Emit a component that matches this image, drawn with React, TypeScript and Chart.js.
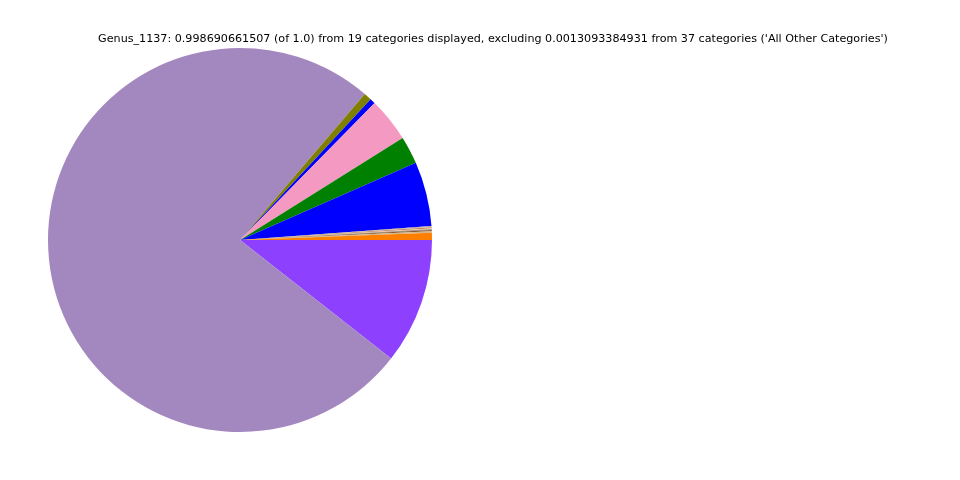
import React, { useEffect, useRef } from "react";
import { Chart, registerables } from "chart.js";

Chart.register(...registerables);

// Slices in counter-clockwise order starting at 3 o'clock (as in the reference)
const categories = [
  "Cat_01", "Cat_02", "Cat_03", "Cat_04", "Cat_05", "Cat_06", "Cat_07",
  "Cat_08", "Cat_09", "Cat_10", "Cat_11", "Cat_12", "Cat_13", "Cat_14",
  "Cat_15", "Cat_16", "Cat_17", "Cat_18", "Cat_19",
];
const values = [
  0.0060, 0.0012, 0.0009, 0.0008, 0.0007, 0.0006, 0.0004, 0.0003, 0.0002,
  0.0002, 0.0001, 0.0001, 0.0535, 0.0230, 0.0367, 0.0045, 0.0064, 0.7470,
  0.1045,
];
const colors = [
  "#ff8000", "#d2b48c", "#8b5a2b", "#808080", "#f5c19c", "#a0522d", "#c0c0c0",
  "#deb887", "#696969", "#bc8f8f", "#f4a460", "#556b2f", "#0000ff", "#008000",
  "#f49ac2", "#0000ff", "#808000", "#a388bf", "#8e40ff",
];
const titleText =
  "Genus_1137: 0.998690661507 (of 1.0) from 19 categories displayed, excluding 0.0013093384931 from 37 categories ('All Other Categories')";

export default function App() {
  const ref = useRef<HTMLCanvasElement | null>(null);
  useEffect(() => {
    if (!ref.current) return;
    const titlePlugin = {
      id: "customTitle",
      afterDraw(chart: any) {
        const ctx = chart.ctx;
        ctx.save();
        ctx.font = "11.15px 'DejaVu Sans'";
        ctx.fillStyle = "#000";
        ctx.textAlign = "center";
        ctx.textBaseline = "middle";
        ctx.fillText(titleText, 493, 39.5);
        ctx.restore();
      },
    };
    const chart = new Chart(ref.current, {
      type: "pie",
      data: {
        labels: [...categories].reverse(),
        datasets: [
          {
            data: [...values].reverse(),
            backgroundColor: [...colors].reverse(),
            borderWidth: 0,
          },
        ],
      },
      options: {
        animation: false,
        responsive: false,
        rotation: 90,
        layout: { padding: { left: 48, top: 48, right: 528, bottom: 48 } },
        plugins: {
          legend: { display: false },
          title: { display: false },
          tooltip: { enabled: false },
        },
      },
      plugins: [titlePlugin],
    });
    return () => chart.destroy();
  }, []);
  return (
    <div style={{ position: "absolute", left: 0, top: 0, width: 960, height: 480, background: "#fff" }}>
      <canvas ref={ref} width={960} height={480} style={{ width: 960, height: 480 }} />
    </div>
  );
}
